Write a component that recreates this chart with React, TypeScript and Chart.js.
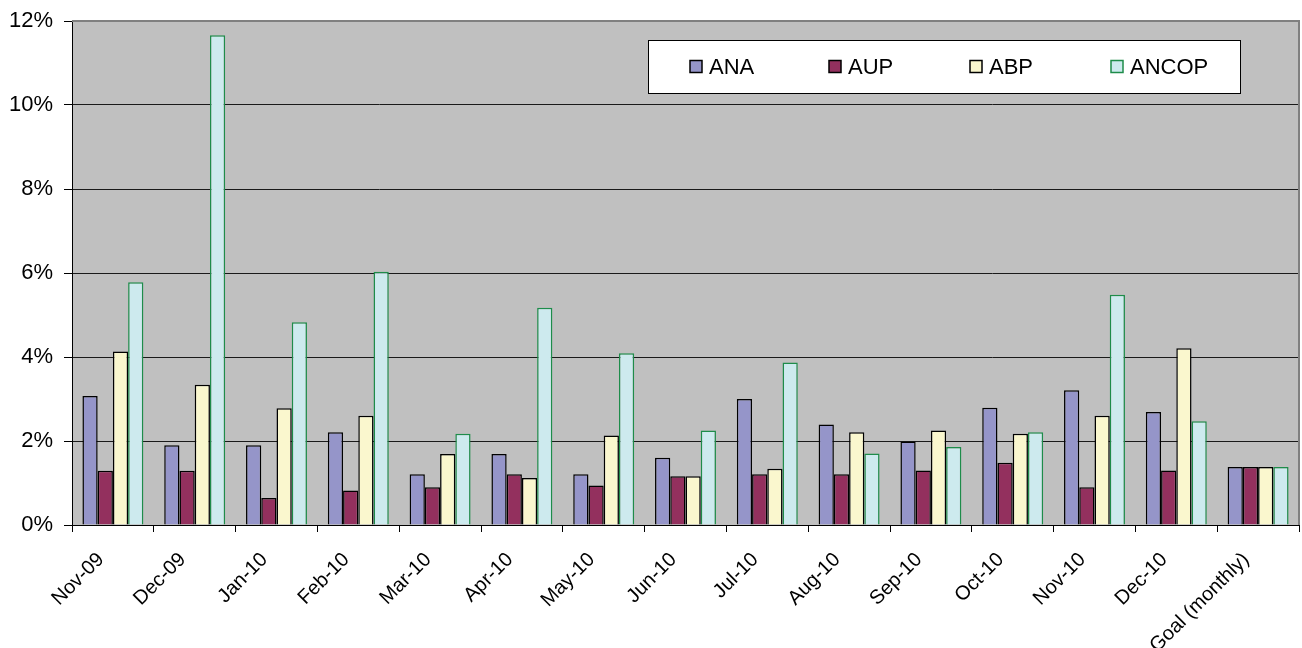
import React, { useEffect, useRef } from "react";
import { Chart, registerables } from "chart.js";

Chart.register(...registerables);

const categories = [
  "Nov-09", "Dec-09", "Jan-10", "Feb-10", "Mar-10", "Apr-10", "May-10", "Jun-10",
  "Jul-10", "Aug-10", "Sep-10", "Oct-10", "Nov-10", "Dec-10", "Goal (monthly)",
];
const anaValues = [3.07, 1.9, 1.9, 2.21, 1.21, 1.69, 1.21, 1.6, 3.0, 2.39, 1.99, 2.79, 3.21, 2.69, 1.38];
const aupValues = [1.29, 1.29, 0.64, 0.82, 0.9, 1.21, 0.94, 1.16, 1.21, 1.21, 1.3, 1.48, 0.9, 1.3, 1.38];
const abpValues = [4.13, 3.34, 2.78, 2.6, 1.69, 1.12, 2.13, 1.16, 1.34, 2.21, 2.25, 2.17, 2.6, 4.21, 1.38];
const ancopValues = [5.78, 11.66, 4.83, 6.03, 2.17, 5.17, 4.09, 2.25, 3.87, 1.7, 1.86, 2.21, 5.48, 2.47, 1.38];
const yTicks = [0, 2, 4, 6, 8, 10, 12];

const FONT = '"Liberation Sans", Arial, sans-serif';

const seriesStyle = [
  { label: "ANA", data: anaValues, fill: "#9595C9", border: "#000000" },
  { label: "AUP", data: aupValues, fill: "#93305E", border: "#000000" },
  { label: "ABP", data: abpValues, fill: "#FAF7CE", border: "#000000" },
  { label: "ANCOP", data: ancopValues, fill: "#CDEAEE", border: "#1E8C4A" },
];

const bgPlugin = {
  id: "plotBg",
  beforeDraw(chart: any) {
    const { ctx, chartArea } = chart;
    ctx.save();
    ctx.fillStyle = "#C0C0C0";
    ctx.fillRect(chartArea.left, chartArea.top, chartArea.right - chartArea.left, chartArea.bottom - chartArea.top);
    ctx.restore();
  },
  afterDatasetsDraw(chart: any) {
    const { ctx, chartArea } = chart;
    ctx.save();
    ctx.strokeStyle = "#808080";
    ctx.lineWidth = 2;
    ctx.beginPath();
    ctx.moveTo(chartArea.left, chartArea.top);
    ctx.lineTo(chartArea.right, chartArea.top);
    ctx.lineTo(chartArea.right, chartArea.bottom);
    ctx.stroke();
    ctx.restore();
  },
};

const legendPlugin = {
  id: "boxLegend",
  afterDraw(chart: any) {
    const { ctx } = chart;
    const box = { x: 648, y: 40, w: 592, h: 53 };
    const itemX = [690, 829, 970, 1111];
    ctx.save();
    ctx.fillStyle = "#FFFFFF";
    ctx.fillRect(box.x, box.y, box.w, box.h);
    ctx.strokeStyle = "#000000";
    ctx.lineWidth = 1;
    ctx.strokeRect(box.x + 0.5, box.y + 0.5, box.w, box.h);
    const cy = box.y + box.h / 2;
    ctx.font = `22px ${FONT}`;
    ctx.textBaseline = "middle";
    ctx.textAlign = "left";
    seriesStyle.forEach((s, i) => {
      const x = itemX[i];
      ctx.fillStyle = s.fill;
      ctx.fillRect(x, cy - 6, 12, 12);
      ctx.strokeStyle = s.border;
      ctx.lineWidth = 1.5;
      ctx.strokeRect(x, cy - 6, 12, 12);
      ctx.fillStyle = "#000000";
      ctx.fillText(s.label, x + 19, cy + 1);
    });
    ctx.restore();
  },
};

export default function App() {
  const canvasRef = useRef<HTMLCanvasElement | null>(null);

  useEffect(() => {
    if (!canvasRef.current) return;
    Chart.defaults.font.family = FONT;
    Chart.defaults.color = "#000000";
    const chart = new Chart(canvasRef.current, {
      type: "bar",
      data: {
        labels: categories,
        datasets: seriesStyle.map((s) => ({
          label: s.label,
          data: s.data,
          backgroundColor: s.fill,
          borderColor: s.border,
          borderWidth: 1.5,
          categoryPercentage: 0.745,
          barPercentage: 1,
        })),
      },
      options: {
        responsive: false,
        animation: false,
        layout: { padding: { top: 21, right: 3, left: 0, bottom: 0 } },
        plugins: {
          legend: { display: false },
          tooltip: { enabled: false },
        },
        scales: {
          x: {
            offset: true,
            grid: {
              offset: true,
              drawOnChartArea: false,
              drawTicks: true,
              tickLength: 7,
              color: "#000000",
            },
            border: { display: true, color: "#000000", width: 1 },
            ticks: {
              font: { size: 20, family: FONT },
              color: "#000000",
              minRotation: 45,
              maxRotation: 45,
              autoSkip: false,
              padding: 16,
              labelOffset: -12,
            },
            afterFit(scale: any) {
              scale.height = 123;
              scale.paddingLeft = 0;
              scale.paddingRight = 0;
            },
          },
          y: {
            min: 0,
            max: 12,
            afterBuildTicks(scale: any) {
              scale.ticks = yTicks.map((v) => ({ value: v }));
            },
            grid: {
              color: (c: any) => (c.tick && c.tick.value === 12 ? "rgba(0,0,0,0)" : "#1a1a1a"),
              lineWidth: 1,
              drawTicks: true,
              tickLength: 8,
              tickColor: "#000000",
            },
            border: { display: true, color: "#000000", width: 1 },
            ticks: {
              font: { size: 22, family: FONT },
              color: "#000000",
              padding: 11,
              callback: (v: any) => `${v}%`,
            },
            afterFit(scale: any) {
              scale.width = 72;
              scale.paddingTop = 0;
              scale.paddingBottom = 0;
            },
          },
        },
      },
      plugins: [bgPlugin, legendPlugin],
    });
    return () => chart.destroy();
  }, []);

  return (
    <div style={{ position: "absolute", left: 0, top: 0, width: 1302, height: 648, background: "#FFFFFF" }}>
      <canvas ref={canvasRef} width={1302} height={648} style={{ display: "block" }} />
    </div>
  );
}
